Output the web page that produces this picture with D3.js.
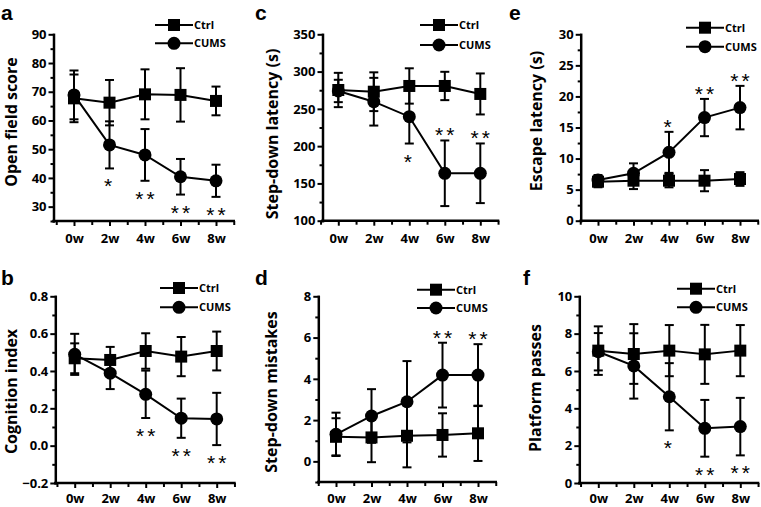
<!DOCTYPE html>
<html>
<head>
<meta charset="utf-8">
<script src="https://cdn.jsdelivr.net/npm/d3@7/dist/d3.min.js"></script>
<style>
  body { margin: 0; background: #fff; }
  svg text { font-family: "Open Sans", sans-serif; font-weight: bold; fill: #000; }
</style>
</head>
<body>
<svg id="chart" width="761" height="507"></svg>
<script>
// shared categories
const weeks = ["0w", "2w", "4w", "6w", "8w"];
const weekNum = [0, 2, 4, 6, 8];
const groups = ["Ctrl", "CUMS"];

// a - open field score
const openCtrl = [67.7, 66.2, 69.1, 68.9, 66.8];
const openCtrlErr = [8.3, 7.9, 8.7, 9.3, 5.0];
const openCums = [68.9, 51.5, 48.0, 40.4, 39.0];
const openCumsErr = [8.5, 8.2, 9.0, 6.2, 5.6];
const openStars = ["", "*", "**", "**", "**"];
const openStarSide = ["", "below", "below", "below", "below"];
const openTicks = [30, 40, 50, 60, 70, 80, 90];
const openMinor = [25, 35, 45, 55, 65, 75, 85];

// b - cognition index
const cogCtrl = [0.468, 0.459, 0.507, 0.477, 0.507];
const cogCtrlErr = [0.08, 0.07, 0.095, 0.105, 0.104];
const cogCums = [0.489, 0.388, 0.275, 0.147, 0.143];
const cogCumsErr = [0.11, 0.085, 0.127, 0.105, 0.14];
const cogStars = ["", "", "**", "**", "**"];
const cogStarSide = ["", "", "below", "below", "below"];
const cogTicks = [-0.2, 0.0, 0.2, 0.4, 0.6, 0.8];
const cogMinor = [-0.1, 0.1, 0.3, 0.5, 0.7];

// c - step-down latency
const latCtrl = [275.3, 273, 280.7, 280.7, 270];
const latCtrlErr = [23, 26, 23.7, 19, 27.5];
const latCums = [274, 259.6, 239.5, 163.6, 163.6];
const latCumsErr = [15, 32, 36, 44, 40];
const latStars = ["", "", "*", "**", "**"];
const latStarSide = ["", "", "below", "above", "above"];
const latTicks = [100, 150, 200, 250, 300, 350];
const latMinor = [125, 175, 225, 275, 325];

// d - step-down mistakes
const misCtrl = [1.19, 1.16, 1.24, 1.28, 1.36];
const misCtrlErr = [0.9, 1.2, 1.53, 1.05, 1.34];
const misCums = [1.31, 2.2, 2.89, 4.18, 4.18];
const misCumsErr = [1.05, 1.3, 1.97, 1.57, 1.5];
const misStars = ["", "", "", "**", "**"];
const misStarSide = ["", "", "", "above", "above"];
const misTicks = [0, 2, 4, 6, 8];
const misMinor = [-1, 1, 3, 5, 7];

// e - escape latency
const escCtrl = [6.28, 6.44, 6.44, 6.44, 6.71];
const escCtrlErr = [0.9, 1.35, 1.07, 1.7, 1.1];
const escCums = [6.55, 7.63, 11.0, 16.6, 18.2];
const escCumsErr = [0.8, 1.6, 3.3, 3.0, 3.5];
const escStars = ["", "", "*", "**", "**"];
const escStarSide = ["", "", "above", "above", "above"];
const escTicks = [0, 5, 10, 15, 20, 25, 30];
const escMinor = [2.5, 7.5, 12.5, 17.5, 22.5, 27.5];

// f - platform passes
const pasCtrl = [7.09, 6.91, 7.09, 6.89, 7.09];
const pasCtrlErr = [1.3, 1.6, 1.37, 1.58, 1.37];
const pasCums = [7.03, 6.27, 4.62, 2.93, 3.02];
const pasCumsErr = [1.0, 1.75, 1.8, 1.52, 1.54];
const pasStars = ["", "", "*", "**", "**"];
const pasStarSide = ["", "", "below", "below", "below"];
const pasTicks = [0, 2, 4, 6, 8, 10];
const pasMinor = [1, 3, 5, 7, 9];

const svg = d3.select("#chart");

/**
 * Draw one small panel: axes, two series with SEM bars, legend, stars
 */
function drawPanel(p, lay) {
  const g = svg.append("g");

  const x = d3.scaleLinear().domain([0, 8]).range([lay.x0, lay.x0 + 142]);
  const y = d3.scaleLinear().domain(p.yDomain).range([lay.bottom, lay.top]);

  // minor y ticks
  g.append("g")
    .attr("transform", `translate(${lay.left},0)`)
    .call(d3.axisLeft(y).tickValues(p.minor).tickSize(3).tickFormat(""))
    .call(s => s.select(".domain").remove());

  // major y ticks + axis line
  g.append("g")
    .attr("class", "axis")
    .attr("transform", `translate(${lay.left},0)`)
    .call(d3.axisLeft(y).tickValues(p.ticks).tickSize(5).tickSizeOuter(0).tickPadding(2).tickFormat(p.fmt))
    .selectAll("text").style("font-size", "13px");

  // x axis: major ticks at labelled weeks, minor at odd weeks
  g.append("g")
    .attr("transform", `translate(0,${lay.bottom})`)
    .call(d3.axisBottom(x).tickValues([-1, 1, 3, 5, 7, 9]).tickSize(4).tickFormat(""))
    .call(s => s.select(".domain").remove());

  g.append("g")
    .attr("class", "axis")
    .attr("transform", `translate(0,${lay.bottom})`)
    .call(d3.axisBottom(x).tickValues(weekNum).tickSize(5).tickPadding(lay.xPad).tickFormat((d, i) => weeks[i]))
    .call(s => s.select(".domain").remove())
    .selectAll("text").style("font-size", "13px");

  g.append("line")
    .attr("x1", lay.left).attr("x2", x(9))
    .attr("y1", lay.bottom).attr("y2", lay.bottom)
    .attr("stroke", "#000").attr("stroke-width", 2.5).attr("stroke-linecap", "square");

  g.selectAll(".domain").attr("stroke-width", 2.5).attr("stroke-linecap", "square");
  g.selectAll(".tick line").attr("stroke-width", 2);

  // y axis title
  g.append("text")
    .attr("transform", `translate(${lay.labelX},${lay.labelY}) rotate(-90)`)
    .attr("text-anchor", "middle")
    .style("font-size", "16px")
    .text(p.label);

  // panel letter
  g.append("text")
    .attr("x", lay.letterX).attr("y", lay.letterY)
    .style("font-family", "'Liberation Sans', sans-serif")
    .style("font-size", "21px")
    .text(p.letter);

  const series = [
    {name: groups[0], vals: p.ctrl, err: p.ctrlErr, shape: "square"},
    {name: groups[1], vals: p.cums, err: p.cumsErr, shape: "circle"}
  ];

  const line = d3.line().x((d, i) => x(weekNum[i])).y(d => y(d));

  series.forEach(s => {
    g.append("path")
      .datum(s.vals)
      .attr("d", line)
      .attr("fill", "none").attr("stroke", "#000").attr("stroke-width", 2);

    // error bars
    s.vals.forEach((v, i) => {
      const cx = x(weekNum[i]);
      const yHi = y(v + s.err[i]), yLo = y(v - s.err[i]);
      g.append("line").attr("x1", cx).attr("x2", cx).attr("y1", yHi).attr("y2", yLo)
        .attr("stroke", "#000").attr("stroke-width", 2);
      [yHi, yLo].forEach(yy => {
        g.append("line").attr("x1", cx - 4.5).attr("x2", cx + 4.5).attr("y1", yy).attr("y2", yy)
          .attr("stroke", "#000").attr("stroke-width", 2);
      });
    });
  });

  series.forEach(s => {
    s.vals.forEach((v, i) => drawMarker(g, s.shape, x(weekNum[i]), y(v)));
  });

  // significance stars
  p.stars.forEach((st, i) => {
    if (!st) return;
    const mid = p.starSide[i] === "below" ? y(p.cums[i] - p.cumsErr[i]) + 13 : y(p.cums[i] + p.cumsErr[i]) - 10;
    g.append("text")
      .attr("x", x(weekNum[i]) + (st.length - 1) * 1.5)
      .attr("y", mid + 12)
      .attr("text-anchor", "middle")
      .style("font-family", "'Liberation Sans', sans-serif")
      .style("font-weight", "normal")
      .style("font-size", "21px")
      .style("letter-spacing", "3px")
      .text(st);
  });

  // legend
  series.forEach((s, k) => {
    const ly = lay.legY[k];
    g.append("line").attr("x1", lay.legX - 19).attr("x2", lay.legX + 19).attr("y1", ly).attr("y2", ly)
      .attr("stroke", "#000").attr("stroke-width", 2);
    drawMarker(g, s.shape, lay.legX, ly);
    g.append("text")
      .attr("x", lay.legX + 20).attr("y", ly)
      .attr("dy", "0.35em")
      .style("font-size", "11px")
      .text(s.name);
  });
}

function drawMarker(g, shape, cx, cy) {
  if (shape === "square") {
    g.append("rect").attr("x", cx - 6).attr("y", cy - 6).attr("width", 12).attr("height", 12).attr("fill", "#000");
  } else {
    g.append("circle").attr("cx", cx).attr("cy", cy).attr("r", 6.5).attr("fill", "#000");
  }
}

const intFmt = d3.format("d");
const decFmt = d3.format(".1f");

const panels = [
  {letter: "a", label: "Open field score", ctrl: openCtrl, ctrlErr: openCtrlErr, cums: openCums, cumsErr: openCumsErr,
   stars: openStars, starSide: openStarSide, ticks: openTicks, minor: openMinor, yDomain: [25, 90], fmt: intFmt},
  {letter: "c", label: "Step-down latency (s)", ctrl: latCtrl, ctrlErr: latCtrlErr, cums: latCums, cumsErr: latCumsErr,
   stars: latStars, starSide: latStarSide, ticks: latTicks, minor: latMinor, yDomain: [100, 350], fmt: intFmt},
  {letter: "e", label: "Escape latency (s)", ctrl: escCtrl, ctrlErr: escCtrlErr, cums: escCums, cumsErr: escCumsErr,
   stars: escStars, starSide: escStarSide, ticks: escTicks, minor: escMinor, yDomain: [0, 30], fmt: intFmt},
  {letter: "b", label: "Cognition index", ctrl: cogCtrl, ctrlErr: cogCtrlErr, cums: cogCums, cumsErr: cogCumsErr,
   stars: cogStars, starSide: cogStarSide, ticks: cogTicks, minor: cogMinor, yDomain: [-0.2, 0.8], fmt: decFmt},
  {letter: "d", label: "Step-down mistakes", ctrl: misCtrl, ctrlErr: misCtrlErr, cums: misCums, cumsErr: misCumsErr,
   stars: misStars, starSide: misStarSide, ticks: misTicks, minor: misMinor, yDomain: [-1, 8], fmt: intFmt},
  {letter: "f", label: "Platform passes", ctrl: pasCtrl, ctrlErr: pasCtrlErr, cums: pasCums, cumsErr: pasCumsErr,
   stars: pasStars, starSide: pasStarSide, ticks: pasTicks, minor: pasMinor, yDomain: [0, 10], fmt: intFmt}
];

// pixel layout of each panel
const layouts = [
  {left: 53.5, x0: 74, top: 34.3, bottom: 221, xPad: 8, labelX: 16.5, labelY: 122, letterX: 1, letterY: 19.5, legX: 174, legY: [25, 43.3]},
  {left: 322.5, x0: 338.3, top: 34.3, bottom: 220.7, xPad: 8, labelX: 277.5, labelY: 134, letterX: 255, letterY: 19.5, legX: 439, legY: [25, 45]},
  {left: 580.7, x0: 598, top: 34.3, bottom: 220.7, xPad: 8, labelX: 541.5, labelY: 121, letterX: 509, letterY: 19.5, legX: 705, legY: [27.7, 46.7]},
  {left: 55.3, x0: 74.7, top: 296.3, bottom: 483, xPad: 5.5, labelX: 16.5, labelY: 391.5, letterX: 1, letterY: 285, legX: 179, legY: [288, 307.3]},
  {left: 318.3, x0: 336, top: 296.3, bottom: 482, xPad: 6.5, labelX: 277, labelY: 392, letterX: 255, letterY: 285, legX: 436, legY: [289.7, 308]},
  {left: 579.3, x0: 598.3, top: 296.3, bottom: 483, xPad: 5.5, labelX: 541, labelY: 388, letterX: 523, letterY: 285, legX: 696, legY: [288.7, 307.3]}
];

panels.forEach((p, i) => drawPanel(p, layouts[i]));
</script>
</body>
</html>
